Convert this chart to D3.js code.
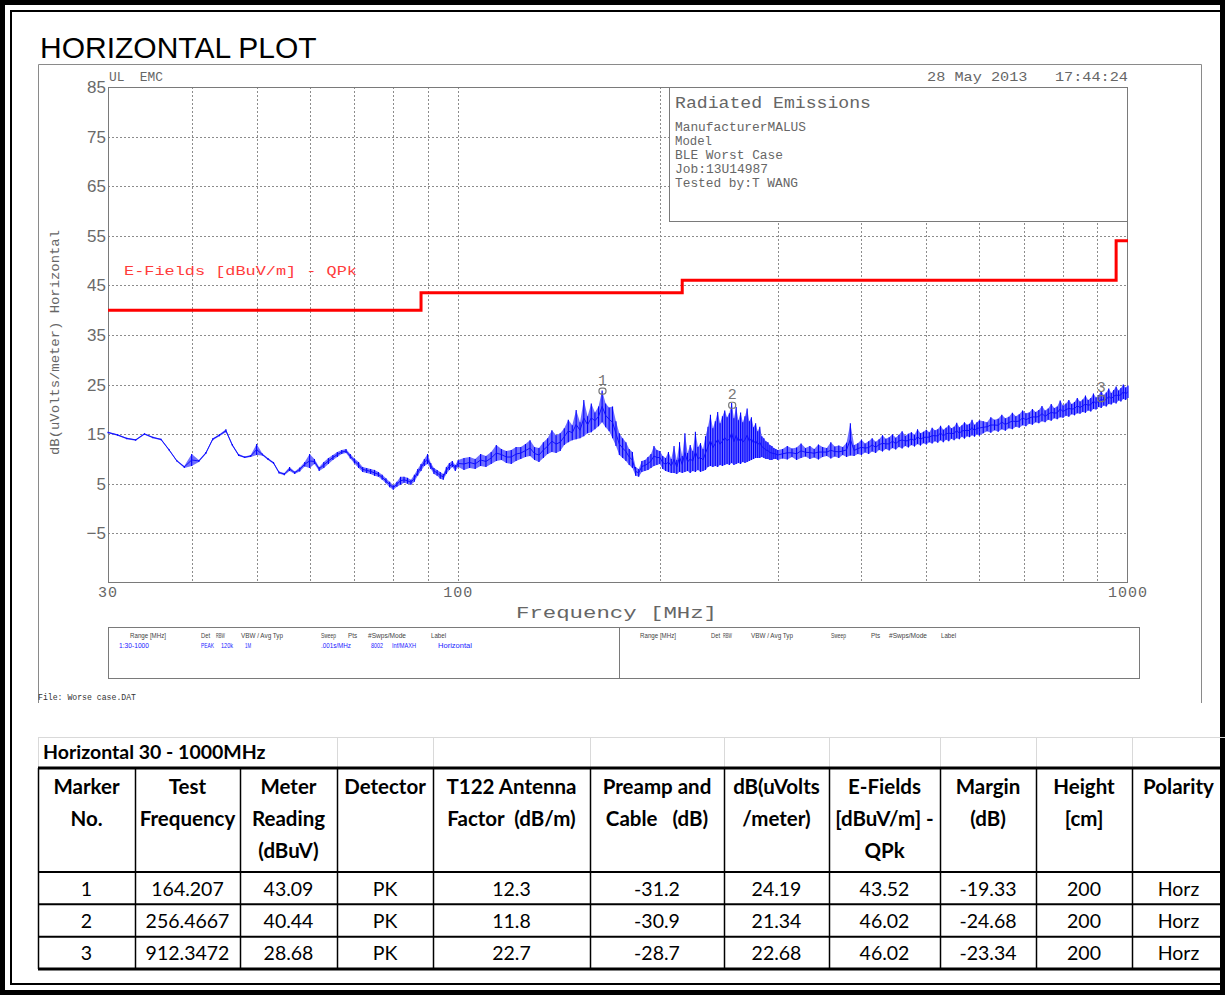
<!DOCTYPE html>
<html>
<head>
<meta charset="utf-8">
<script src="https://cdn.jsdelivr.net/npm/d3@7/dist/d3.min.js"></script>
<style>
  html, body { margin: 0; padding: 0; background: #ffffff; }
  svg { display: block; }
  text.pre { white-space: pre; }
</style>
</head>
<body>
<svg id="page" width="1225" height="995"></svg>
<script>
// ---------------- data ----------------
// Swept peak trace, [MHz, min dB, max dB] per frequency bin.
const sweepLowBand = [
  [30,15.2,15.5],[31,14.7,15.0],[32,14.0,14.3],[33,13.7,14.0],[34,14.9,15.2],[35,14.2,14.5],
  [36,13.8,14.1],[37,11.7,12.0],[38,9.5,9.8],[39,8.2,8.6],[40,8.6,11.0],[41,9.4,9.8],
  [42,11.0,11.4],[43,13.8,14.2],[44,14.6,15.0],[45,15.4,16.0],[46,12.6,13.0],[47,10.6,11.0],
  [48,10.2,10.5],[49,10.4,10.8],[50,10.8,13.0],[51,10.7,11.1],[52,9.8,10.2],[53,9.0,9.4],
  [54,7.1,7.5],[55,6.7,7.2],[56,7.6,8.4],[57,7.0,7.5],[58,7.5,8.3],[59,8.5,9.4],
  [60,8.2,11.0],[61,9.0,10.0],[62,7.6,8.4],[63,8.2,9.4],[64,9.0,10.2],[65,9.8,10.8],
  [66,10.4,11.4],[67,11.0,11.8],[68,11.2,12.0],[69,10.1,11.0],[70,9.1,10.1],[71,8.2,9.4],
  [72,7.4,8.4],[73,7.2,8.2],[74,7.0,8.0],[75,6.6,7.8],[76,6.4,7.4],[77,5.8,6.8],
  [78,5.1,6.1],[79,4.3,5.4],[80,3.8,4.7],[81,4.4,5.4],[82,4.8,6.4],[83,5.2,6.4],
  [84,5.0,6.2],[85,4.8,5.8],[86,5.4,6.8],[87,6.6,8.0],[88,7.6,9.0],[89,8.6,10.0],
  [90,9.0,11.0],[91,8.0,9.2],[92,7.0,8.2],[93,6.6,7.8],[94,6.0,7.4],[95,5.8,7.0],
  [96,7.0,8.4],[97,7.8,9.2],[98,8.4,9.6],[99,7.6,8.8],[100,8.4,9.8]
];
const sweepMidBand = [
  [102,7.8,10.2],[104,8.2,10.4],[106,8.0,10.0],[108,8.6,11.0],[110,8.4,10.6],[112,9.0,11.4],
  [114,9.6,12.8],[116,9.8,12.0],[118,9.2,11.6],[120,9.0,11.8],[122,9.6,12.4],[124,10.0,12.4],
  [126,10.4,13.0],[128,10.6,13.8],[130,9.8,12.4],[132,9.4,12.2],[134,10.2,13.4],[136,11.0,14.2],
  [138,11.4,15.8],[140,11.2,14.8],[142,11.6,15.2],[144,12.8,16.2],[146,13.4,17.9],[148,13.8,16.8],
  [150,14.0,19.9],[152,14.2,17.4],[154,14.6,21.9],[156,15.2,18.6],[158,15.4,21.2],[160,16.0,19.4],
  [162,16.6,20.6],[164,17.4,23.8],[166,16.4,21.2],[168,15.6,20.4],[170,14.2,20.6],[172,12.6,17.6],
  [174,10.8,15.2],[176,10.2,14.2],[178,9.6,13.4],[180,8.8,12.0],[182,8.2,11.4],[184,6.6,8.4],
  [186,6.4,8.0],[188,7.4,9.6],[190,7.6,9.8],[192,7.8,10.4],[194,8.2,11.0],[196,8.6,12.6],
  [198,8.8,11.8],[200,9.0,11.6],[202,8.0,10.6],[204,7.6,10.2],[206,7.4,11.4],[208,7.2,10.0],
  [210,7.2,12.6],[212,7.0,9.8],[214,7.4,13.4],[216,7.2,10.6],[218,7.4,15.2],[220,7.6,11.2],
  [222,7.2,12.8],[224,7.6,11.6],[226,7.4,15.5],[228,7.8,12.4],[230,7.4,13.2],[232,7.6,12.0],
  [234,7.8,14.6],[236,8.4,16.5],[238,8.6,18.9],[240,8.4,16.2],[242,8.6,17.6],[244,8.4,19.5],
  [246,8.8,17.2],[248,8.6,18.6],[250,8.8,19.8],[252,9.0,18.4],[254,8.8,19.2],[256,9.2,21.3],
  [258,8.8,18.2],[260,9.0,20.5],[262,9.2,17.8],[264,9.0,19.4],[266,9.4,17.4],[268,9.2,18.6],
  [270,9.4,20.2],[272,9.6,17.6],[274,9.8,18.4],[276,10.0,16.4],[278,10.2,17.2],[280,10.2,15.6],
  [282,10.2,16.5],[284,10.4,14.6],[286,10.2,14.2],[288,10.0,13.6],[290,10.0,13.4],[292,9.8,12.8],
  [294,9.8,12.6],[296,10.0,12.2],[298,10.0,12.0],[300,9.8,11.8]
];
const sweepHighBand = [
  [305,10.1,12.0],[310,9.9,12.6],[315,10.4,12.1],[320,9.8,12.3],[325,10.2,13.1],[330,10.5,12.2],
  [335,10.0,12.6],[340,10.3,12.0],[345,9.9,12.9],[350,10.4,12.4],[355,10.6,12.2],[360,10.1,13.4],
  [365,10.5,12.5],[370,10.2,12.7],[375,10.8,12.4],[380,10.4,13.3],[385,10.7,17.2],[390,10.6,12.8],
  [395,11.0,13.2],[400,10.8,13.9],[405,11.3,13.1],[410,11.0,13.6],[415,11.5,14.2],[420,11.2,13.5],
  [425,11.8,14.0],[430,11.5,14.8],[435,12.0,14.1],[440,11.7,14.4],[445,12.2,15.0],[450,11.9,14.3],
  [455,12.4,14.9],[460,12.1,15.6],[465,12.6,14.7],[470,12.3,15.1],[475,12.8,15.4],[480,12.5,14.9],
  [485,13.0,16.0],[490,12.7,15.2],[495,13.2,15.5],[500,12.9,15.9],[505,13.4,15.4],[510,13.1,16.3],
  [515,13.6,15.8],[520,13.3,16.0],[525,13.8,16.7],[530,13.4,15.9],[535,13.9,16.3],[540,13.6,16.8],
  [545,14.1,16.2],[550,13.8,16.5],[555,14.2,17.3],[560,14.0,16.4],[565,14.5,16.8],[570,14.1,17.4],
  [575,14.6,16.9],[580,14.4,17.1],[585,14.8,17.9],[590,14.5,16.9],[595,15.0,17.4],[600,14.7,17.8],
  [608,15.2,17.6],[616,15.6,17.4],[624,15.3,18.4],[632,15.8,17.9],[640,15.5,18.1],[648,16.0,18.9],
  [656,15.7,18.2],[664,16.2,18.5],[672,16.0,19.3],[680,16.5,18.6],[688,16.3,19.0],[696,16.8,19.8],
  [704,16.6,19.2],[712,17.1,19.4],[720,16.9,20.1],[728,17.4,19.5],[736,17.2,19.9],[744,17.6,20.7],
  [752,17.4,19.8],[760,17.9,20.2],[768,17.7,21.1],[776,18.2,20.3],[784,18.0,20.6],[792,18.4,21.8],
  [800,18.3,20.8],[808,18.7,21.2],[816,18.5,21.9],[824,19.0,21.1],[832,18.8,21.5],[840,19.2,22.3],
  [848,19.1,21.6],[856,19.5,22.0],[864,19.3,22.8],[872,19.8,21.9],[880,19.6,22.3],[888,20.1,23.2],
  [896,20.0,22.4],[904,20.5,22.9],[912,20.3,23.7],[920,20.8,22.9],[928,20.6,23.4],[936,21.1,24.2],
  [944,21.0,23.3],[952,21.4,23.9],[960,21.2,24.6],[968,21.8,23.8],[976,21.6,24.3],[984,22.1,25.0],
  [992,21.9,24.4],[1000,22.3,24.8]
];

// E-field QPk limit: band edges (MHz) and level per band (dBuV/m)
const limitEdgesMHz = [30, 88, 216, 960, 1000];
const limitLevels = [40, 43.52, 46.02, 53.98];

// Axis ticks
const yTicks = [85, 75, 65, 55, 45, 35, 25, 15, 5, -5];
const yGrid = [75, 65, 55, 45, 35, 25, 15, 5, -5];
const xGridMHz = [40, 50, 60, 70, 80, 90, 100, 200, 300, 400, 500, 600, 700, 800, 900];
const xTickLabels = [30, 100, 1000];

// Markers / results table
const markerNo = [1, 2, 3];
const markerMHz = ["164.207", "256.4667", "912.3472"];
const meterReading = ["43.09", "40.44", "28.68"];
const detector = ["PK", "PK", "PK"];
const antennaFactor = ["12.3", "11.8", "22.7"];
const preampCable = ["-31.2", "-30.9", "-28.7"];
const fieldLevel = ["24.19", "21.34", "22.68"];
const limitQPk = ["43.52", "46.02", "46.02"];
const margin = ["-19.33", "-24.68", "-23.34"];
const heightCm = ["200", "200", "200"];
const polarity = ["Horz", "Horz", "Horz"];
const tableHeaders = [
  ["Marker", "No."], ["Test", "Frequency"], ["Meter", "Reading", "(dBuV)"], ["Detector"],
  ["T122 Antenna", "Factor  (dB/m)"], ["Preamp and", "Cable   (dB)"], ["dB(uVolts", "/meter)"],
  ["E-Fields", "[dBuV/m] -", "QPk"], ["Margin", "(dB)"], ["Height", "[cm]"], ["Polarity"]
];

// Info block
const infoLines = ["ManufacturerMALUS", "Model", "BLE Worst Case", "Job:13U14987", "Tested by:T WANG"];
const sweepHeader = ["Range [MHz]", "Det", "RBW", "VBW / Avg Typ", "Sweep", "Pts", "#Swps/Mode", "Label"];
const sweepSetting = ["1:30-1000", "PEAK", "120k", "1M", ".001s/MHz", "8002", "Inf/MAXH", "Horizontal"];

// ---------------- drawing ----------------
const svg = d3.select("#page");
const MONO = "'Liberation Mono', 'DejaVu Sans Mono', monospace";
const SANS = "'Liberation Sans', Arial, sans-serif";
const GRAY = "#666666";

// page border: heavy outer rule with a thin inner rule
svg.append("rect").attr("x", 2.5).attr("y", 2.5).attr("width", 1220).attr("height", 990)
  .attr("fill", "none").attr("stroke", "#000").attr("stroke-width", 5);
svg.append("path").attr("d", "M1222,11H11V984H1222")
  .attr("fill", "none").attr("stroke", "#000").attr("stroke-width", 2);

// title
svg.append("text").attr("x", 40).attr("y", 58)
  .attr("font-family", SANS).attr("font-size", 30)
  .attr("fill", "#000").text("HORIZONTAL PLOT");

// plot frame (gray)
svg.append("path").attr("d", "M38.5,703V64.5H1201.5V703")
  .attr("fill", "none").attr("stroke", "#8a8a8a").attr("stroke-width", 1);

function hText(x, y, str, size, len, fill, extra) {
  const t = svg.append("text").attr("class", "pre").attr("x", x).attr("y", y)
    .attr("font-family", MONO).attr("font-size", size).attr("fill", fill || GRAY)
    .text(str);
  if (len) t.attr("textLength", len).attr("lengthAdjust", "spacingAndGlyphs");
  if (extra) extra(t);
  return t;
}

const x = d3.scaleLog().domain([30, 1000]).range([108, 1128]);
const y = d3.scaleLinear().domain([-15, 85]).range([583, 87]);

// grid
const grid = svg.append("g").attr("stroke", "#8c8c8c").attr("stroke-width", 1)
  .attr("stroke-dasharray", "2,2");
grid.selectAll("line.h").data(yGrid).join("line")
  .attr("x1", 108).attr("x2", 1128)
  .attr("y1", d => Math.round(y(d)) + 0.5).attr("y2", d => Math.round(y(d)) + 0.5);
grid.selectAll("line.v").data(xGridMHz).join("line")
  .attr("y1", 87).attr("y2", 583)
  .attr("x1", d => Math.round(x(d)) + 0.5).attr("x2", d => Math.round(x(d)) + 0.5);

// plot box
svg.append("rect").attr("x", 108.5).attr("y", 87.5).attr("width", 1019).attr("height", 495)
  .attr("fill", "none").attr("stroke", "#7a7a7a").attr("stroke-width", 1);

// y tick labels
svg.selectAll("text.yt").data(yTicks).join("text")
  .attr("x", 106).attr("y", d => y(d) + 6)
  .attr("text-anchor", "end")
  .attr("font-family", SANS).attr("font-size", 17)
  .attr("fill", "#6a6a6a")
  .text(d => d < 0 ? "\u2212" + Math.abs(d) : d);

// x tick labels
svg.selectAll("text.xt").data(xTickLabels).join("text")
  .attr("x", d => x(d)).attr("y", 597)
  .attr("text-anchor", "middle")
  .attr("font-family", MONO).attr("font-size", 15).attr("letter-spacing", 1)
  .attr("fill", GRAY)
  .text(d => d);

// header texts
hText(109, 81, "UL  EMC", 13, 54);
hText(927, 81, "28 May 2013   17:44:24", 13, 201);

// axis titles
hText(516, 618, "Frequency [MHz]", 16, 201);
hText(0, 0, "dB(uVolts/meter) Horizontal", 12, 225, GRAY,
  t => t.attr("transform", "translate(59,455) rotate(-90)"));

// info box
svg.append("rect").attr("x", 669.5).attr("y", 87.5).attr("width", 458).attr("height", 134)
  .attr("fill", "#fff").attr("stroke", "#7a7a7a").attr("stroke-width", 1);
hText(675, 108, "Radiated Emissions", 16, 196);
const infoLen = [131, 37, 108, 93, 123];
infoLines.forEach((s, i) => hText(675, 131 + i * 14, s, 12, infoLen[i]));

// limit line
const limitPts = [];
limitLevels.forEach((v, i) => {
  limitPts.push([limitEdgesMHz[i], v]);
  limitPts.push([limitEdgesMHz[i + 1], v]);
});
svg.append("path").datum(limitPts)
  .attr("d", d3.line().x(d => x(d[0])).y(d => y(d[1])))
  .attr("fill", "none").attr("stroke", "#ff0000").attr("stroke-width", 3);
hText(124, 275, "E-Fields [dBuV/m] - QPk", 13, 233, "#ff3b3b");

// measurement trace: min/max envelope, per-bin excursions and the running level
const sweep = sweepLowBand.concat(sweepMidBand, sweepHighBand);
const trace = svg.append("g");
trace.append("path").datum(sweep)
  .attr("d", d3.area().x(d => x(d[0])).y0(d => y(d[1])).y1(d => y(d[2])))
  .attr("fill", "#7070ff");
trace.selectAll("line").data(sweep).join("line")
  .attr("x1", d => x(d[0])).attr("x2", d => x(d[0]))
  .attr("y1", d => y(d[1])).attr("y2", d => y(d[2]))
  .attr("stroke", "#0000ff").attr("stroke-width", 1.1);
trace.append("path").datum(sweep)
  .attr("d", d3.line().x(d => x(d[0])).y(d => y((d[1] + d[2]) / 2)))
  .attr("fill", "none").attr("stroke", "#1010ff").attr("stroke-width", 1);

// markers
const mk = svg.append("g");
markerNo.forEach((n, i) => {
  const mx = x(+markerMHz[i]), my = y(+fieldLevel[i]);
  mk.append("rect").attr("x", mx - 3.5).attr("y", my - 0.5).attr("width", 7).attr("height", 6)
    .attr("rx", 2.5).attr("fill", "none").attr("stroke", "#777").attr("stroke-width", 1.2);
  mk.append("text").attr("x", mx).attr("y", my - 4).attr("text-anchor", "middle")
    .attr("font-family", MONO).attr("font-size", 15).attr("fill", "#777").text(n);
});

// sweep settings boxes
svg.append("rect").attr("x", 108.5).attr("y", 627.5).attr("width", 1031).attr("height", 51)
  .attr("fill", "none").attr("stroke", "#7a7a7a").attr("stroke-width", 1);
svg.append("line").attr("x1", 619.5).attr("x2", 619.5).attr("y1", 627.5).attr("y2", 678.5)
  .attr("stroke", "#7a7a7a").attr("stroke-width", 1);
const hdrXLeft = [130, 201, 216, 241, 321, 348, 368, 431];
const hdrXRight = [640, 711, 723, 751, 831, 871, 889, 941];
const hdrLen = [36, 9, 9, 42, 15, 9, 38, 15];
const setX = [119, 201, 221, 245, 321, 371, 392, 438];
const setLen = [30, 13, 12, 6, 30, 12, 24, 34];
[hdrXLeft, hdrXRight].forEach(xs => {
  sweepHeader.forEach((s, i) => svg.append("text").attr("x", xs[i]).attr("y", 638)
    .attr("font-family", SANS).attr("font-size", 7.5)
    .attr("textLength", hdrLen[i]).attr("lengthAdjust", "spacingAndGlyphs")
    .attr("fill", "#444").text(s));
});
sweepSetting.forEach((s, i) => svg.append("text").attr("x", setX[i]).attr("y", 648)
  .attr("font-family", SANS).attr("font-size", 7.5)
  .attr("textLength", setLen[i]).attr("lengthAdjust", "spacingAndGlyphs")
  .attr("fill", "#1a1aff").text(s));
hText(38, 700, "File: Worse case.DAT", 9, 98, "#333");

// ---------------- results table ----------------
const colEdges = [38, 135, 240, 337, 433, 590, 724, 829, 940, 1036, 1132, 1225];
const TOP = 737, HEAD = 768, BODY = 872, ROW = 32.33;
const tbl = svg.append("g").attr("font-family", "Lato, 'Open Sans', sans-serif");

// faint sheet gridlines on the caption row
tbl.append("line").attr("x1", 38).attr("x2", 1225).attr("y1", TOP + 0.5).attr("y2", TOP + 0.5)
  .attr("stroke", "#d9d9d9");
colEdges.slice(0, -1).forEach((cx, i) => {
  if (i === 0 || i >= 3) tbl.append("line").attr("x1", cx + 0.5).attr("x2", cx + 0.5)
    .attr("y1", TOP).attr("y2", HEAD).attr("stroke", "#d9d9d9");
});
tbl.append("text").attr("x", 43).attr("y", 759).attr("font-size", 19.5).attr("font-weight", 700)
  .attr("fill", "#000").text("Horizontal 30 - 1000MHz");

// borders
const rowsY = [BODY, BODY + ROW, BODY + 2 * ROW];
tbl.append("line").attr("x1", 38).attr("x2", 1225).attr("y1", HEAD).attr("y2", HEAD)
  .attr("stroke", "#000").attr("stroke-width", 3);
rowsY.forEach(ry => tbl.append("line").attr("x1", 38).attr("x2", 1225).attr("y1", ry).attr("y2", ry)
  .attr("stroke", "#000").attr("stroke-width", 2));
tbl.append("line").attr("x1", 38).attr("x2", 1225).attr("y1", BODY + 3 * ROW).attr("y2", BODY + 3 * ROW)
  .attr("stroke", "#000").attr("stroke-width", 3);
colEdges.slice(0, -1).forEach(cx => tbl.append("line").attr("x1", cx + 0.5).attr("x2", cx + 0.5)
  .attr("y1", HEAD).attr("y2", BODY + 3 * ROW).attr("stroke", "#000").attr("stroke-width", 1.5));

// headers
tableHeaders.forEach((lines, c) => {
  const cx = (colEdges[c] + colEdges[c + 1]) / 2;
  lines.forEach((s, k) => tbl.append("text").attr("class", "pre").attr("x", cx).attr("y", 794 + k * 32)
    .attr("text-anchor", "middle").attr("font-size", 20.5).attr("font-weight", 700)
    .attr("fill", "#000").text(s));
});

// body rows
const columns = [markerNo, markerMHz, meterReading, detector, antennaFactor, preampCable,
  fieldLevel, limitQPk, margin, heightCm, polarity];
markerNo.forEach((_, r) => {
  columns.forEach((col, c) => {
    const cx = (colEdges[c] + colEdges[c + 1]) / 2;
    tbl.append("text").attr("x", cx).attr("y", BODY + r * ROW + 23.5)
      .attr("text-anchor", "middle").attr("font-size", 19.5).attr("fill", "#000").text(col[r]);
  });
});
</script>
</body>
</html>
